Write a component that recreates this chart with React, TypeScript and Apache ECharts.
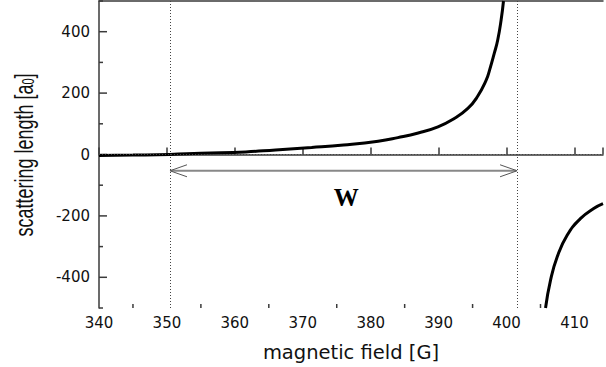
import React, { useEffect, useRef } from "react";
import * as echarts from "echarts";

// Axis ranges and ticks
const X_MIN = 340;
const X_MAX = 414.2;
const Y_MIN = -500;
const Y_MAX = 500;
const xMinorTicks = [345, 355, 365, 375, 385, 395, 405];
const yMajorTicks = [-400, -200, 0, 200, 400];
const yMinorTicks = [-500, -300, -100, 100, 300, 500];

// Scattering length curve, branch below the resonance
const lowB = [340, 345, 350.45, 355, 361.6, 366, 371.3, 376, 381.1, 384, 387, 389.9, 392.3, 394.3, 395.7, 397, 397.5, 398.2, 398.7, 399.2, 399.55];
const lowA = [-3, -2, 0, 4, 8.5, 15, 22.8, 31, 43.4, 55, 70, 90, 117, 150, 188, 242, 275, 330, 373, 438, 500];
// Branch above the resonance
const highB = [405.74, 406.47, 407.45, 408.92, 410.87, 412.83, 414.2];
const highA = [-500, -410, -334, -263, -209, -176, -160];

// Dotted guide lines
const guideX = [350.45, 401.55];
const guideY = [0];
// Width arrow (from zero crossing to resonance) and its label
const arrowSpan = [350.45, 401.55];
const arrowLevel = -53;
const W_X = 376.4;
const W_Y = -139;

const AXIS_COLOR = "#3a3a3a";

export default function App() {
  const ref = useRef<HTMLDivElement>(null);
  useEffect(() => {
    if (!ref.current) return;
    const chart = echarts.init(ref.current, null, { renderer: "svg" });
    const tickLine = (x1: number, y1: number, x2: number, y2: number) => ({
      type: "line",
      shape: { x1, y1, x2, y2 },
      style: { stroke: AXIS_COLOR, lineWidth: 1.5 },
      silent: true,
    });
    const option: any = {
      animation: false,
      backgroundColor: "#ffffff",
      grid: { left: 99, right: 0, top: 1, bottom: 59, containLabel: false },
      graphic: [
        {
          type: "text",
          x: 24,
          y: 155,
          rotation: Math.PI / 2,
          scaleY: 1.45,
          silent: true,
          style: {
            text: "scattering length [a{sub|0}]",
            fontFamily: "Liberation Sans",
            fontSize: 18,
            fill: "#111",
            align: "center",
            verticalAlign: "middle",
            rich: {
              sub: { fontFamily: "Liberation Sans", fontSize: 11, fill: "#111", verticalAlign: "bottom" },
            },
          },
        },
      ],
      xAxis: [
        {
          type: "value",
          min: X_MIN,
          max: X_MAX,
          interval: 10,
          name: "magnetic field [G]",
          nameLocation: "middle",
          nameGap: 34,
          nameTextStyle: { fontFamily: "DejaVu Sans", fontSize: 19.5, color: "#111" },
          axisLine: { show: true, lineStyle: { color: AXIS_COLOR, width: 1.5 } },
          axisTick: { show: true, inside: true, length: 7, lineStyle: { color: AXIS_COLOR, width: 1.5 } },
          axisLabel: {
            fontFamily: "DejaVu Sans",
            fontSize: 15,
            color: "#111",
            margin: 7,
            formatter: (v: number) => (Math.abs(v % 10) < 1e-6 ? String(v) : ""),
          },
          splitLine: { show: false },
        },
        {
          type: "value",
          position: "top",
          min: X_MIN,
          max: X_MAX,
          axisLine: { show: true, onZero: false, lineStyle: { color: AXIS_COLOR, width: 1.5 } },
          axisTick: { show: false },
          axisLabel: { show: false },
          splitLine: { show: false },
        },
      ],
      yAxis: {
        type: "value",
        min: Y_MIN,
        max: Y_MAX,
        interval: 100,
        axisLine: { show: true, onZero: false, lineStyle: { color: AXIS_COLOR, width: 1.5 } },
        axisTick: { show: false },
        axisLabel: {
          fontFamily: "DejaVu Sans",
          fontSize: 15,
          color: "#111",
          margin: 9,
          formatter: (v: number) => (yMajorTicks.indexOf(v) >= 0 ? String(v) : ""),
        },
        splitLine: { show: false },
      },
      series: [
        {
          type: "line",
          name: "guides",
          data: [],
          silent: true,
          markLine: {
            silent: true,
            symbol: "none",
            label: { show: false },
            lineStyle: { type: [1, 2], color: "#444", width: 1 },
            data: [
              ...guideX.map((v) => ({ xAxis: v })),
              ...guideY.map((v) => ({ yAxis: v })),
            ],
          },
        },
        {
          type: "line",
          name: "below",
          data: lowB.map((b, i) => [b, lowA[i]]),
          showSymbol: false,
          smooth: 0.5,
          lineStyle: { color: "#000", width: 3 },
          clip: true,
        },
        {
          type: "line",
          name: "above",
          data: highB.map((b, i) => [b, highA[i]]),
          showSymbol: false,
          smooth: 0.5,
          lineStyle: { color: "#000", width: 3 },
          clip: true,
        },
        {
          type: "custom",
          name: "yMajor",
          data: yMajorTicks.map((v) => [X_MIN, v]),
          renderItem: (_p: any, api: any) => {
            const p = api.coord([api.value(0), api.value(1)]);
            return tickLine(p[0], p[1], p[0] + 8, p[1]);
          },
        },
        {
          type: "custom",
          name: "yMinor",
          data: yMinorTicks.map((v) => [X_MIN, v]),
          renderItem: (_p: any, api: any) => {
            const p = api.coord([api.value(0), api.value(1)]);
            return tickLine(p[0], p[1], p[0] + 4, p[1]);
          },
        },
        {
          type: "custom",
          name: "xMinor",
          data: xMinorTicks.map((v) => [v, Y_MIN]),
          renderItem: (_p: any, api: any) => {
            const p = api.coord([api.value(0), api.value(1)]);
            return tickLine(p[0], p[1], p[0], p[1] - 4);
          },
        },
        {
          type: "custom",
          name: "arrow",
          data: [[arrowSpan[0], arrowSpan[1], arrowLevel]],
          encode: { x: [0, 1], y: 2 },
          renderItem: (_p: any, api: any) => {
            const a = api.coord([api.value(0), api.value(2)]);
            const b = api.coord([api.value(1), api.value(2)]);
            return {
              type: "group",
              silent: true,
              children: [
                { type: "line", shape: { x1: a[0] + 1, y1: a[1], x2: b[0] - 1, y2: b[1] }, style: { stroke: "#888", lineWidth: 2 } },
                { type: "polyline", shape: { points: [[a[0] + 17, a[1] - 6], [a[0], a[1]], [a[0] + 17, a[1] + 6]] }, style: { stroke: "#555", lineWidth: 1, fill: "none" } },
                { type: "polyline", shape: { points: [[b[0] - 17, b[1] - 6], [b[0], b[1]], [b[0] - 17, b[1] + 6]] }, style: { stroke: "#555", lineWidth: 1, fill: "none" } },
              ],
            };
          },
        },
        {
          type: "custom",
          name: "label",
          data: [[W_X, W_Y]],
          renderItem: (_p: any, api: any) => {
            const p = api.coord([api.value(0), api.value(1)]);
            return {
              type: "text",
              x: p[0],
              y: p[1],
              silent: true,
              style: {
                text: "W",
                fontFamily: "Liberation Serif",
                fontWeight: "bold",
                fontSize: 25,
                fill: "#000",
                align: "center",
                verticalAlign: "middle",
              },
            };
          },
        },
      ],
    };
    chart.setOption(option);
    return () => chart.dispose();
  }, []);
  return (
    <div
      ref={ref}
      style={{ position: "absolute", left: 0, top: 0, width: 606, height: 367, background: "#fff" }}
    />
  );
}
